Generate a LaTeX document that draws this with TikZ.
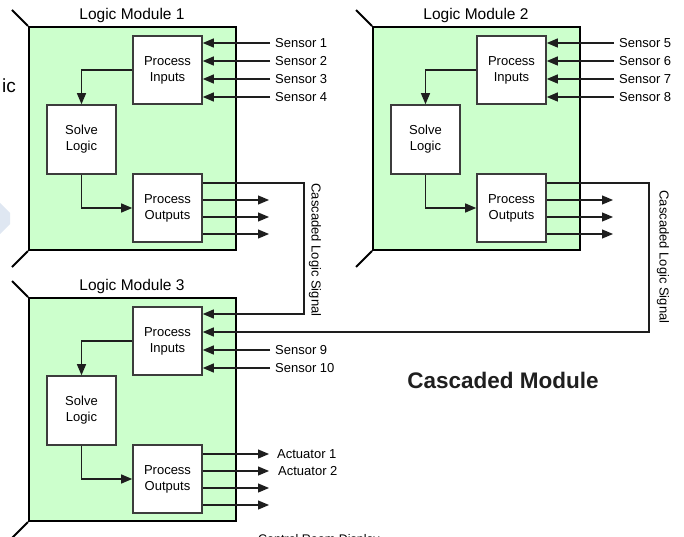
\documentclass[tikz,border=0pt]{standalone}
\usepackage{fontspec}
\setmainfont{Liberation Sans}
\usetikzlibrary{arrows.meta,calc}
\definecolor{modgreen}{HTML}{CCFFCC}
\definecolor{boxline}{HTML}{3C3C3C}
\definecolor{lineclr}{HTML}{1E1E1E}
\definecolor{paleblue}{HTML}{DFE7F2}
\tikzset{
  modbox/.style={draw=black, line width=2pt, fill=modgreen, minimum width=207pt, minimum height=223pt, inner sep=0pt},
  procbox/.style={draw=boxline, line width=1.6pt, fill=white, minimum width=69pt, minimum height=68pt, inner sep=0pt, align=center, font=\fontsize{13}{16}\selectfont},
  conn/.style={draw=lineclr, line width=1.2pt},
  tip/.style={-{Triangle[length=11pt,width=9pt]}},
  lbl/.style={anchor=west, inner sep=0pt, font=\fontsize{13}{15}\selectfont},
  ttl/.style={inner sep=0pt, font=\fontsize{15.5}{18}\selectfont},
  diag/.style={draw=black, line width=2pt},
  vlbl/.style={rotate=-90, inner sep=0pt, font=\fontsize{13}{15}\selectfont}
}
\newcommand\mymodule[4]{%
\begin{scope}[shift={(#2,#3)}]
  \node[modbox] (#1) at (132.5,138.5) {};
  \coordinate (#1tl) at (12,10);
  \coordinate (#1bl) at (12,267);
  \draw[diag] (#1tl) -- (#1.north west);
  \draw[diag] (#1.south west) -- (#1bl);
  \node[ttl] (#1title) at (132,15) {#4};
  \node[procbox] (#1pi) at (167.5,70) {Process\\Inputs};
  \node[procbox, minimum height=69pt] (#1sl) at (81.5,139.5) {Solve\\Logic};
  \node[procbox] (#1po) at (167.5,208) {Process\\Outputs};
  \draw[conn,tip] (#1pi.west) -| (#1sl.north);
  \draw[conn,tip] (#1sl.south) |- (#1po.west);
  \coordinate (#1i1) at (270,43);
  \coordinate (#1i2) at (270,61);
  \coordinate (#1i3) at (270,79);
  \coordinate (#1i4) at (270,97);
  \coordinate (#1o1) at (269,183);
  \coordinate (#1o2) at (269,200);
  \coordinate (#1o3) at (269,217);
  \coordinate (#1o4) at (269,234);
  \draw[conn,tip] (#1o2 -| #1po.east) -- (#1o2);
  \draw[conn,tip] (#1o3 -| #1po.east) -- (#1o3);
  \draw[conn,tip] (#1o4 -| #1po.east) -- (#1o4);
\end{scope}}
\begin{document}
\begin{tikzpicture}[x=1pt,y=-1pt]
\useasboundingbox (0,0) rectangle (684,537);
\clip (0,0) rectangle (684,537);
% partial elements at the left edge
\fill[paleblue] (0,203) -- (10,213) -- (10,224) -- (0,234) -- cycle;
\node[anchor=base east, inner sep=0pt, font=\fontsize{19}{22}\selectfont] (ictext) at (16,93) {ic};

\mymodule{ma}{0}{0}{Logic Module 1}
\mymodule{mb}{344}{0}{Logic Module 2}
\mymodule{mc}{0}{271}{Logic Module 3}

% module 1 sensors
\foreach \i/\s in {1/Sensor 1,2/Sensor 2,3/Sensor 3,4/Sensor 4}{
  \draw[conn,tip] (mai\i) -- (mai\i -| mapi.east);
  \node[lbl] (masl\i) at ($(mai\i)+(5,0)$) {\s};
}
% module 2 sensors
\foreach \i/\s in {1/Sensor 5,2/Sensor 6,3/Sensor 7,4/Sensor 8}{
  \draw[conn,tip] (mbi\i) -- (mbi\i -| mbpi.east);
  \node[lbl] (mbsl\i) at ($(mbi\i)+(5,0)$) {\s};
}
% module 3 sensors
\foreach \i/\s in {3/Sensor 9,4/Sensor 10}{
  \draw[conn,tip] (mci\i) -- (mci\i -| mcpi.east);
  \node[lbl] (mcsl\i) at ($(mci\i)+(5,0)$) {\s};
}
% module 3 first output + labels
\draw[conn,tip] (mco1 -| mcpo.east) -- (mco1);
\node[lbl] (act1) at ($(mco1)+(8,0)$) {Actuator 1};
\node[lbl] (act2) at ($(mco2)+(9,0)$) {Actuator 2};

% cascaded signals
\coordinate (cA) at (304,183);
\coordinate (cB) at (649,183);
\draw[conn,tip] (mao1 -| mapo.east) -- (cA) |- (mci1 -| mcpi.east);
\draw[conn,tip] (mbo1 -| mbpo.east) -- (cB) |- (mci2 -| mcpi.east);
\node[vlbl] (cascA) at (315,250) {Cascaded Logic Signal};
\node[vlbl] (cascB) at (663,257) {Cascaded Logic Signal};

\node[inner sep=0pt, font=\bfseries\fontsize{22.5}{26}\selectfont, text=black!88] (casctitle) at (503,380) {Cascaded Module};

% partially visible caption at the bottom (cut by the picture's edge)
\node[anchor=base west, inner sep=0pt, font=\fontsize{12.5}{15}\selectfont] (crd) at (258,543.5) {Control Room Display};
\end{tikzpicture}
\end{document}
